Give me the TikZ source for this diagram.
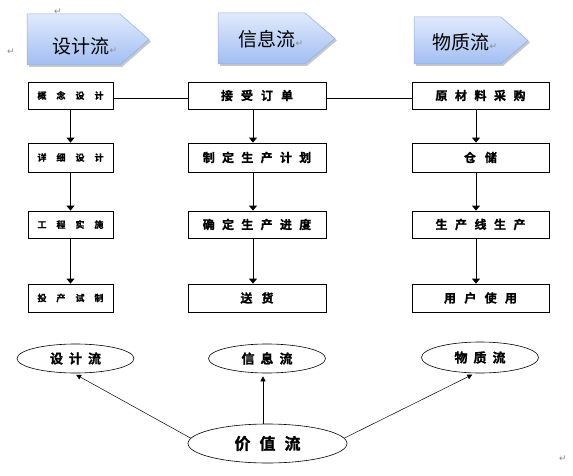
\documentclass[tikz,border=0pt]{standalone}
\usepackage{fontspec}
\newfontfamily\cjk{Noto Sans CJK SC}
\newfontfamily\cjkb{Noto Sans CJK SC Bold}[FakeBold=1.2]
\newfontfamily\dv{DejaVu Sans}
\usetikzlibrary{arrows.meta,shapes.geometric}
\definecolor{arrtop}{HTML}{E0EAFC}
\definecolor{arrbot}{HTML}{A2BEF2}
\definecolor{arrline}{HTML}{8FAEDF}
\definecolor{shadowc}{HTML}{C8C8C8}
\definecolor{retgray}{HTML}{8A8A8A}
\newcommand\retm{{\dv\fontsize{9}{9}\selectfont\color{retgray}↵}}
\newcommand\gp[1]{\hspace{#1pt}}
\tikzset{
  hdr/.style={inner sep=0pt, font=\cjk\fontsize{19}{19}\selectfont},
  stepbox/.style={draw, line width=0.8pt, fill=white, inner sep=0pt, minimum height=27pt},
  boxa/.style={stepbox, minimum width=85pt, font=\cjkb\fontsize{9}{9}\selectfont},
  boxb/.style={stepbox, minimum width=138pt, font=\cjkb\fontsize{12}{12}\selectfont},
  boxc/.style={stepbox, minimum width=137pt, font=\cjkb\fontsize{12}{12}\selectfont},
  flowline/.style={line width=0.8pt},
  flowarr/.style={line width=0.8pt, -{Triangle[length=5pt,width=8pt]}},
  ell/.style={ellipse, draw, line width=0.6pt, inner sep=0pt, minimum width=117pt, minimum height=29pt, font=\cjkb\fontsize{13}{13}\selectfont},
  valarr/.style={line width=0.5pt, -{Triangle[length=5pt,width=5pt]}, shorten >=3pt},
  retnode/.style={inner sep=0pt}
}
\begin{document}
\begin{tikzpicture}[x=1pt,y=1pt]
\useasboundingbox (0,0) rectangle (573,475);
% header arrows
\fill[shadowc] (29,459) -- (122,459) -- (151,433.5) -- (122,408) -- (29,408) -- cycle;
\shade[top color=arrtop, bottom color=arrbot, draw=arrline, line width=0.5pt]
  (27,461) -- (120,461) -- (149,435.5) -- (120,410) -- (27,410) -- cycle;
\fill[shadowc] (220,460) -- (307,460) -- (337,434.5) -- (307,409) -- (220,409) -- cycle;
\shade[top color=arrtop, bottom color=arrbot, draw=arrline, line width=0.5pt]
  (218,462) -- (305,462) -- (335,436.5) -- (305,411) -- (218,411) -- cycle;
\fill[shadowc] (416,456) -- (503,456) -- (530,432.5) -- (503,409) -- (416,409) -- cycle;
\shade[top color=arrtop, bottom color=arrbot, draw=arrline, line width=0.5pt]
  (414,458) -- (501,458) -- (528,434.5) -- (501,411) -- (414,411) -- cycle;
\node[hdr] (h1) at (85,429) {设计流\retm};
\node[hdr] (h2) at (271,436) {信息流\retm};
\node[hdr] (h3) at (465,433) {物质流\retm};
% paragraph marks
\node[retnode] (r1) at (58,463) {\retm};
\node[retnode] (r2) at (11,423) {\retm};
\node[retnode] (r3) at (563,16) {\retm};
% column 1
\node[boxa] (a1) at (70.5,379.5) {概\gp{10}念\gp{10}设\gp{10}计};
\node[boxa, minimum height=29pt] (a2) at (70.5,317.5) {详\gp{10}细\gp{10}设\gp{10}计};
\node[boxa] (a3) at (70.5,250.5) {工\gp{10}程\gp{10}实\gp{10}施};
\node[boxa, minimum height=28pt] (a4) at (70.5,177) {投\gp{10}产\gp{10}试\gp{10}制};
% column 2
\node[boxb] (b1) at (257,379.5) {接\gp{8}受\gp{8}订\gp{8}单};
\node[boxb, minimum height=29pt] (b2) at (257,317.5) {制\gp{7.3}定\gp{7.3}生\gp{7.3}产\gp{7.3}计\gp{7.3}划};
\node[boxb] (b3) at (257,250.5) {确\gp{7.3}定\gp{7.3}生\gp{7.3}产\gp{7.3}进\gp{7.3}度};
\node[boxb, minimum height=28pt] (b4) at (257,177) {送\gp{9}货};
% column 3
\node[boxc] (c1) at (480.5,379.5) {原\gp{7.5}材\gp{7.5}料\gp{7.5}采\gp{7.5}购};
\node[boxc, minimum height=29pt] (c2) at (480.5,317.5) {仓\gp{9}储};
\node[boxc] (c3) at (480.5,250.5) {生\gp{7.5}产\gp{7.5}线\gp{7.5}生\gp{7.5}产};
\node[boxc, minimum height=28pt] (c4) at (480.5,177) {用\gp{8.3}户\gp{8.3}使\gp{8.3}用};
% horizontal links
\draw[flowline] ([yshift=-2.5pt]a1.east) -- ([yshift=-2.5pt]b1.west);
\draw[flowline] ([yshift=-2.5pt]b1.east) -- ([yshift=-2.5pt]c1.west);
% vertical arrows
\draw[flowarr] (a1.south) -- (a2.north);
\draw[flowarr] (a2.south) -- (a3.north);
\draw[flowarr] (a3.south) -- (a4.north);
\draw[flowarr] ([xshift=-4pt]b1.south) -- ([xshift=-4pt]b2.north);
\draw[flowarr] ([xshift=-4pt]b2.south) -- ([xshift=-4pt]b3.north);
\draw[flowarr] ([xshift=-4pt]b3.south) -- ([xshift=-4pt]b4.north);
\draw[flowarr] ([xshift=-4.5pt]c1.south) -- ([xshift=-4.5pt]c2.north);
\draw[flowarr] ([xshift=-4.5pt]c2.south) -- ([xshift=-4.5pt]c3.north);
\draw[flowarr] ([xshift=-4.5pt]c3.south) -- ([xshift=-4.5pt]c4.north);
% bottom ellipses
\node[ell] (e1) at (75.5,116.5) {设\gp{6}计\gp{6}流};
\node[ell] (e2) at (267,116.5) {信\gp{6}息\gp{6}流};
\node[ell, minimum height=31pt] (e3) at (480,117.5) {物\gp{6}质\gp{6}流};
\node[ell, minimum width=159pt, minimum height=39pt, font=\cjkb\fontsize{16}{16}\selectfont] (v) at (267.5,31.5) {价\gp{9}值\gp{9}流};
\draw[valarr] (v.176) -- ([xshift=-2pt]e1.south);
\draw[valarr] ([xshift=-4.5pt]v.north) -- ([xshift=-4pt]e2.south);
\draw[valarr] (v.4) -- ([xshift=-5pt]e3.south);
\end{tikzpicture}
\end{document}
